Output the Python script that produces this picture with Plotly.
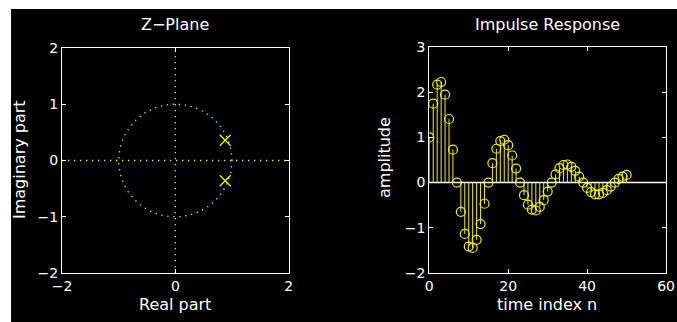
import numpy as np
import plotly.graph_objects as go

# Pole locations of the second-order system
pole_re = [0.88, 0.88]
pole_im = [0.36, -0.36]

# Impulse response samples h[n], n = 0..50
n_idx = list(range(51))
h_vals = [1.00, 1.75, 2.17, 2.23, 1.95, 1.41, 0.73, 0.00, -0.65, -1.14,
          -1.42, -1.45, -1.27, -0.92, -0.47, 0.00, 0.43, 0.75, 0.92, 0.95,
          0.83, 0.60, 0.31, 0.00, -0.28, -0.49, -0.60, -0.62, -0.54, -0.39,
          -0.20, 0.00, 0.18, 0.32, 0.39, 0.40, 0.35, 0.26, 0.13, 0.00,
          -0.12, -0.21, -0.26, -0.26, -0.23, -0.17, -0.09, 0.00, 0.08, 0.13,
          0.17]

YEL = "#f2f200"
WHITE = "#ffffff"
FONT = "DejaVu Sans"

fig = go.Figure()

# ---- Z-plane ----
t = np.linspace(0, 2 * np.pi, 400)
fig.add_trace(go.Scatter(x=np.cos(t), y=np.sin(t), mode="lines",
                         line=dict(color=YEL, width=1.3, dash="1.3px,4.7px"),
                         xaxis="x", yaxis="y", hoverinfo="skip"))
fig.add_trace(go.Scatter(x=[-2, 2, None, 0, 0], y=[0, 0, None, -2, 2], mode="lines",
                         line=dict(color=YEL, width=1.3, dash="1.3px,4.7px"),
                         xaxis="x", yaxis="y", hoverinfo="skip"))
fig.add_trace(go.Scatter(x=pole_re, y=pole_im, mode="markers",
                         marker=dict(symbol="x-thin-open", size=11, color=YEL,
                                     line=dict(color=YEL, width=1.3)),
                         xaxis="x", yaxis="y"))

# ---- Impulse response (stem plot) ----
stem_x, stem_y = [], []
for n, v in zip(n_idx, h_vals):
    stem_x += [n, n, None]
    stem_y += [0, v, None]
fig.add_trace(go.Scatter(x=stem_x, y=stem_y, mode="lines",
                         line=dict(color=YEL, width=1), xaxis="x2", yaxis="y2",
                         hoverinfo="skip"))
fig.add_trace(go.Scatter(x=n_idx, y=h_vals, mode="markers",
                         marker=dict(symbol="circle-open", size=9, color=YEL,
                                     line=dict(color=YEL, width=1.2)),
                         xaxis="x2", yaxis="y2"))
fig.add_trace(go.Scatter(x=[0, 60], y=[0, 0], mode="lines",
                         line=dict(color=WHITE, width=1.5), xaxis="x2", yaxis="y2",
                         hoverinfo="skip"))

ax_common = dict(showgrid=False, zeroline=False, showline=True, linecolor=WHITE,
                 linewidth=1.2, mirror="allticks", ticks="inside", ticklen=4,
                 tickcolor=WHITE, tickwidth=1, automargin=False,
                 tickfont=dict(family=FONT, size=14, color=WHITE))

fig.update_layout(
    template="none",
    width=677, height=322,
    margin=dict(l=0, r=0, t=0, b=0, pad=0),
    paper_bgcolor=WHITE, plot_bgcolor="black",
    showlegend=False,
    xaxis=dict(ax_common, domain=[0.0916, 0.4264], range=[-2, 2],
               tickvals=[-2, 0, 2], ticktext=["\u22122", "0", "2"]),
    yaxis=dict(ax_common, domain=[0.1512, 0.8519], range=[-2, 2],
               tickvals=[-2, -1, 0, 1, 2],
               ticktext=["\u22122", "\u22121", "0", "1", "2"]),
    xaxis2=dict(ax_common, domain=[0.6341, 0.9838], range=[0, 60],
                tickvals=[0, 20, 40, 60], anchor="y2"),
    yaxis2=dict(ax_common, domain=[0.1530, 0.8531], range=[-2, 3],
                tickvals=[-2, -1, 0, 1, 2, 3],
                ticktext=["\u22122", "\u22121", "0", "1", "2", "3"], anchor="x2"),
)

# black figure background area
fig.add_shape(type="rect", xref="paper", yref="paper",
              x0=11 / 677, x1=1, y0=0, y1=(322 - 9) / 322,
              fillcolor="black", line=dict(width=0), layer="below")

lab = dict(family=FONT, size=16, color=WHITE)


def px(xp, yp):
    return xp / 677, 1 - yp / 322


for text, xp, yp, ang in [("Z\u2212Plane", 175, 24, 0),
                          ("Impulse Response", 547, 24, 0),
                          ("Real part", 175, 304, 0),
                          ("time index n", 547, 304, 0),
                          ("Imaginary part", 19, 160, -90),
                          ("amplitude", 385, 158, -90)]:
    xx, yy = px(xp, yp)
    fig.add_annotation(text=text, x=xx, y=yy, xref="paper", yref="paper",
                       showarrow=False, font=lab, textangle=ang,
                       xanchor="center", yanchor="middle")

fig.write_html("out.html")
